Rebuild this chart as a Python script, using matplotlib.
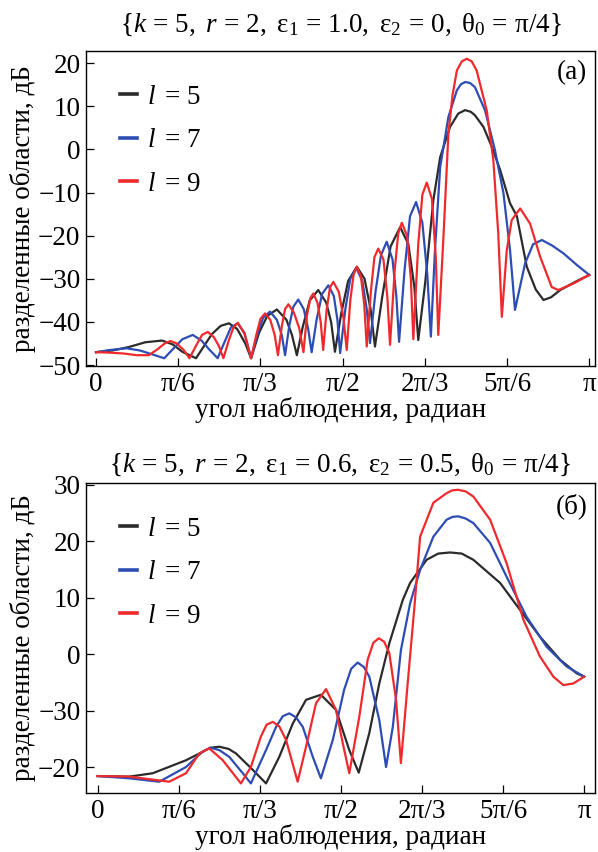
import numpy as np
import matplotlib
matplotlib.use("Agg")
import matplotlib.pyplot as plt

plt.rcParams['font.family'] = ['Liberation Serif', 'DejaVu Serif']
plt.rcParams['mathtext.fontset'] = 'custom'
plt.rcParams['mathtext.rm'] = 'Liberation Serif'
plt.rcParams['mathtext.it'] = 'Liberation Serif:italic'
FS = 19.5

# observation angle in degrees (0..180 = 0..pi), values in dB
# panel (a): eps1 = 1.0, eps2 = 0
a_l5_x = [0, 6, 12, 18, 24.1, 28, 31.5, 36.5, 39.5, 42.3, 45.5, 48.5, 51.5, 54.5, 56.6,
          59.5, 62.5, 66.0, 69.5, 71.5, 73.3, 75.5, 78, 81.1, 84, 85.8, 87.2,
          89.5, 92, 95.2, 98, 100.2, 101.8, 104.5, 107.5, 111, 114, 116.2, 117.6,
          120.1, 123.1, 125.6, 129.2, 132.2, 134.7, 136.8, 138.3, 141.4, 144.5, 147.5, 151.1, 153.6,
          157.2, 160.5, 163.3, 166, 169.4, 175.5, 180]
a_l5_y = [-47.0, -46.6, -45.8, -44.7, -44.3, -45.2, -46.9, -48.4, -45.5, -42.8, -40.9, -40.3, -41.6, -45, -48.4,
          -42.5, -38.6, -37.1, -39.5, -43, -47.7, -41, -35, -32.6, -35.5, -40, -46.9,
          -38, -30.5, -27.2, -30, -37, -45.7, -34, -22.5, -18, -22, -32, -44.2,
          -31.1, -11.8, -1.8, 5.2, 8.3, 9.1, 8.7, 7.9, 5.2, 0.5, -4.8, -12.5, -15.5,
          -27.2, -32.5, -34.9, -34.3, -32.6, -30.5, -29.1]

a_l7_x = [0, 5, 11.2, 16, 20.5, 24.9, 28.5, 31.5, 35.3, 38.5, 41.5, 44.4, 47, 49.2, 51.7, 54.2, 56.6,
          58.8, 61, 63.5, 66, 67.8, 69.0, 70.5, 72, 73.8, 75.8, 77.4, 78.7,
          80.5, 82.5, 84.8, 86.8, 88.1, 89.1, 91, 92.8, 95.0, 97.2, 98.8, 100.0,
          102, 104, 106.1, 108.2, 109.6, 110.6, 112.6, 114.6, 116.8, 119.1, 120.9, 122.2,
          123.7, 125.6, 128.6, 131.7, 133.2, 134.7, 136.5, 138.3, 142.0, 145.6, 148.7, 151.1, 152.9,
          156.6, 159.5, 162.7, 166.5, 170.6, 175.5, 180]
a_l7_y = [-47.0, -46.5, -46.1, -46.6, -47.5, -48.4, -46, -44, -43.0, -44.3, -46.5, -48.4, -44.5, -41.3, -40.3, -42.5, -48.4,
          -43, -39, -37.6, -39.5, -43, -47.7, -41, -36.5, -34.8, -37, -41.5, -47,
          -39.5, -33.5, -31.5, -34, -39.5, -47.2, -37, -30, -27.5, -30.5, -37, -44.9,
          -33, -24.5, -21.4, -25.5, -34, -44.6, -28, -15.5, -12.2, -17, -29, -43.4,
          -23.4, -4.1, 7.5, 13.7, 15.1, 15.6, 15.4, 14.4, 9, -0.2, -10.2, -23.4, -37.2,
          -26.4, -22.0, -21.0, -22.3, -24.1, -26.8, -29.1]

a_l9_x = [0, 5, 10, 14.9, 19.3, 22.5, 25, 27.2, 29.5, 32, 34.1, 36.5, 38.7, 40.8, 43, 44.8, 46.5,
          48.6, 50.2, 51.8, 54.2, 56.6, 58.5, 60, 61.7, 63.6, 65.2, 66.4,
          67.8, 69, 70.2, 72.2, 74.2, 75.7, 77, 78.2, 79.3, 80.8, 82, 82.9,
          84.2, 85.4, 86.6, 88.6, 90.3, 91.5, 92.8, 94, 95.2, 96.7, 97.9, 98.8,
          100.3, 101.6, 103, 104.9, 106.3, 107.3, 109, 110.3, 111.6, 113.5, 114.9, 115.8,
          117.6, 119.1, 120.7, 122.6, 124.0, 124.9,
          126.8, 128.6, 130.1, 131.7, 133.5, 135.3, 137.1, 138.9, 142.6, 145.0, 146.8, 148.1,
          149.9, 151.7, 154.8, 158.4, 162.1, 166.3, 168.7, 174.2, 180]
a_l9_y = [-47.0, -47.1, -47.3, -47.7, -47.7, -46.3, -45, -44.4, -45, -46.5, -48.4, -45.5, -43, -42.3, -43.5, -45.5, -48.4,
          -44, -41.2, -40.2, -42.8, -48.4, -43, -39.3, -38, -39.5, -43, -47.7,
          -41, -37, -35.9, -37.8, -41.5, -47, -38.5, -34.5, -33.4, -35.5, -40, -46.5,
          -37, -32, -30.7, -33, -39, -46.5, -35, -29, -27.2, -29.5, -36, -45.7,
          -33, -25, -23, -25.5, -34, -45.3, -28, -19.5, -17, -20, -30, -44,
          -22, -10.5, -7.7, -11.5, -25, -43,
          -20.3, 3.7, 12.5, 18.3, 20.4, 21.0, 20.4, 18.3, 9.0, -2.5, -19.5, -38.8,
          -23.4, -16.4, -13.7, -17.2, -24.9, -31.9, -32.6, -31.1, -29.1]

# panel (b): eps1 = 0.6, eps2 = 0.5
b_l5_x = [0, 11.7, 20.4, 32.7, 38.9, 41.5, 45, 48.5, 51.2, 57.4, 62.3, 67.2, 72.2, 77.1, 82.6,
          88.2, 93.1, 96.6, 100.5, 104.2, 107.9, 112.9, 115.6, 121.7, 126, 130.4, 134.7, 139, 148.9,
          156.3, 163.6, 171.1, 177.2, 180]
b_l5_y = [-21.6, -21.7, -21.1, -18.8, -17.3, -16.6, -16.4, -16.8, -17.6, -20.5, -22.9, -18.2, -12.3, -8.1, -7.2,
          -9.9, -17, -21, -14, -5.2, 1.9, 9.6, 12.6, 16.7, 17.8, 18.0, 17.8, 16.7, 12.6,
          7.8, 3.1, -1, -3.4, -4]

b_l7_x = [0, 11.7, 22.8, 32.7, 39, 41.9, 45, 48.7, 53.7, 56.7, 62.3, 66, 68.5, 70.9, 73.4, 75.9,
          79.6, 82.6, 87, 91.2, 93.8, 96.2, 98.5, 100.5, 104.2, 106.7, 109.2, 112.2, 115.6,
          119.3, 124.2, 129.1, 131.3, 133.4, 136.2, 139, 145.2, 151.3, 158.7, 166.1, 173.5, 180]
b_l7_y = [-21.6, -22, -22.6, -20, -17.2, -16.6, -17, -18.2, -21.1, -22.9, -17, -12.9, -11, -10.5, -11.2, -12.9,
          -18.2, -22, -15.2, -6.3, -2.6, -1.5, -2.3, -4, -11.7, -20, -12.9, 0.7, 9,
          14.9, 20.8, 23.8, 24.3, 24.4, 24.0, 23.2, 19.7, 13.7, 6.6, 1.3, -2.2, -4]

b_l9_x = [0, 11.7, 26.5, 32.7, 37.6, 41.3, 46.3, 53, 56.7, 60.4, 62.5, 64.8, 67.2, 69.7, 74,
          77.7, 80.8, 84.5, 88.2, 90.7, 93.1, 96.8, 99.9, 102, 104, 106, 107.9, 110.4, 112.2,
          114.7, 117.1, 119.3, 124.2, 129.1, 131.2, 133.4, 136.2, 139, 145.2, 151.3, 157.5, 163.6,
          168.6, 172.3, 176, 180]
b_l9_y = [-21.6, -21.7, -22.6, -21.1, -17.6, -16.7, -18.8, -22.9, -20, -14.6, -12.5, -12, -12.8, -15.2, -22.6,
          -15.2, -8.7, -6.2, -9.9, -15.8, -21.1, -11.1, -1, 2, 2.8, 2.2, 0.2, -8.1, -19.3,
          -5.2, 7.8, 20.8, 26.8, 28.5, 29.0, 29.1, 28.8, 27.9, 23.8, 16.1, 6.1, -0.4,
          -4, -5.5, -5.2, -4]

labels = ['5', '7', '9']
colors = ['#2b2b2b', '#2d4db3', '#f02a2c']
xtick_vals = [0, 30, 60, 90, 120, 150, 180]
xtick_labels = ['0', 'π/6', 'π/3', 'π/2', '2π/3', '5π/6', 'π']
a_yticks = [20, 10, 0, -10, -20, -30, -40, -50]
b_yticks = [30, 20, 10, 0, -10, -20]
b_ytick_labels = ['30', '20', '10', '0', '\u221230', '\u221220']

fig = plt.figure(figsize=(5.98, 8.52), dpi=100)
ax1 = fig.add_axes([86 / 598, 1 - 366 / 852, 509 / 598, 315 / 852])
ax2 = fig.add_axes([86 / 598, 1 - 793 / 852, 509 / 598, 310 / 852])

series = [
    (ax1, [(a_l5_x, a_l5_y), (a_l7_x, a_l7_y), (a_l9_x, a_l9_y)]),
    (ax2, [(b_l5_x, b_l5_y), (b_l7_x, b_l7_y), (b_l9_x, b_l9_y)]),
]
for ax, curves in series:
    for (x, y), lab, c in zip(curves, labels, colors):
        ax.plot(x, y, color=c, lw=1.6, label=r'$l\,$ = ' + lab, solid_joinstyle='round')
    ax.set_xticks(xtick_vals)
    ax.set_xticklabels(xtick_labels)
    ax.tick_params(direction='in', length=6, width=0.9, pad=4, labelsize=FS)
    for s in ax.spines.values():
        s.set_linewidth(1.0)
    ax.set_ylabel('разделенные области, дБ', fontsize=FS)
    ax.yaxis.set_label_coords(-0.098, 0.5)
    ax.set_xlabel('угол наблюдения, радиан', fontsize=FS, labelpad=0)
    leg = ax.legend(loc='upper left', frameon=False, handlelength=0.65, handletextpad=0.35,
                    labelspacing=0.68, borderaxespad=0.85, fontsize=FS)
    for h in leg.get_lines():
        h.set_linewidth(2.6)

ax1.set_xlim(-3.65, 182.1)
ax1.set_ylim(-50.2, 22.8)
ax1.set_yticks(a_yticks)
ax1.set_title(r'$\{k\,=\,5,\ r\,=\,2,\ \mathrm{ε}_1\,=\,1.0,\ \mathrm{ε}_2\,=\,0,\ \mathrm{θ}_0\,=\,\mathrm{π}/4\}$',
              fontsize=FS, pad=14)
ax1.text(0.955, 0.93, '(а)', transform=ax1.transAxes, ha='center', va='center', fontsize=FS)

ax2.set_xlim(-4.3, 184)
ax2.set_ylim(-24.6, 30.3)
ax2.set_yticks(b_yticks)
ax2.set_yticklabels(b_ytick_labels)
ax2.set_title(r'$\{k\,=\,5,\ r\,=\,2,\ \mathrm{ε}_1\,=\,0.6,\ \mathrm{ε}_2\,=\,0.5,\ \mathrm{θ}_0\,=\,\mathrm{π}/4\}$',
              fontsize=FS, pad=8)
ax2.text(0.955, 0.925, '(б)', transform=ax2.transAxes, ha='center', va='center', fontsize=FS)

fig.savefig('out.png', dpi=100)
